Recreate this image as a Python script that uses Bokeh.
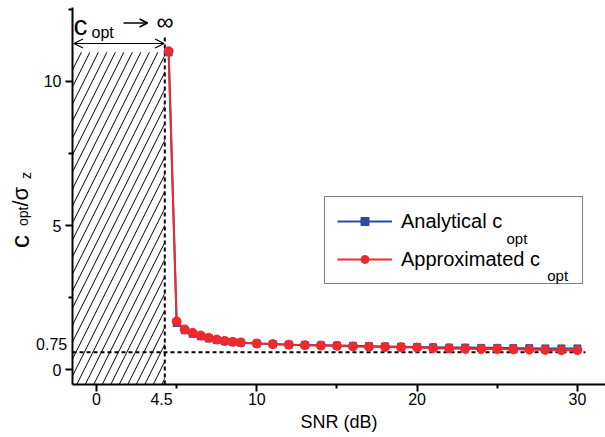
import math
from bokeh.plotting import figure
from bokeh.models import (Label, Arrow, OpenHead, BoxAnnotation, FixedTicker,
                          Legend, LegendItem, Range1d)
from bokeh.embed import file_html
from bokeh.resources import INLINE

# ---------------- data ----------------
snr = [4.5, 5, 5.5, 6, 6.5, 7, 7.5, 8, 8.5, 9,
       10, 11, 12, 13, 14, 15, 16, 17, 18, 19, 20,
       21, 22, 23, 24, 25, 26, 27, 28, 29, 30]
analytical = [11.0, 1.62, 1.37, 1.25, 1.16, 1.09, 1.03, 0.99, 0.96, 0.94,
              0.91, 0.89, 0.87, 0.86, 0.85, 0.84, 0.83, 0.82, 0.81, 0.80, 0.79,
              0.78, 0.77, 0.77, 0.76, 0.76, 0.75, 0.75, 0.74, 0.74, 0.74]
approximated = [11.04, 1.68, 1.40, 1.28, 1.19, 1.11, 1.05, 1.00, 0.97, 0.95,
                0.91, 0.89, 0.87, 0.85, 0.84, 0.83, 0.81, 0.80, 0.79, 0.78, 0.77,
                0.75, 0.74, 0.73, 0.72, 0.72, 0.71, 0.70, 0.69, 0.68, 0.68]
x_ticks = [0, 10, 20, 30]
x_minor = [5, 15, 25]
y_ticks = [0, 5, 10]
y_minor = [2.5, 7.5, 12.5]
threshold_x = 4.26      # vertical dashed line (labelled 4.5)
hline_y = 0.61          # horizontal dashed line (labelled 0.75)
hline_end = 30.5
hatch_top = 11.0
vline_top = 11.58

BLUE = "#2d4b9e"
RED = "#ee2a2e"
FONT = "Liberation Sans"

# ---------------- layout (page pixel -> data helpers) ----------------
W, H = 605, 437
X0P, XS = 96.0, 16.03      # page x of SNR 0, px per dB
Y0P, YS = 369.3, 28.86     # page y of value 0, px per unit

def px(xp):
    return (xp - X0P) / XS

def py(yp):
    return (Y0P - yp) / YS

AX_X = px(72)    # y axis position
AX_Y = py(384)   # x axis position

p = figure(width=W, height=H,
           x_range=Range1d(px(0), px(W)), y_range=Range1d(py(H), py(0)),
           output_backend="svg", toolbar_location=None,
           min_border=0, min_border_left=0, min_border_right=0,
           min_border_top=0, min_border_bottom=0)
p.outline_line_color = None
p.xgrid.visible = False
p.ygrid.visible = False
p.background_fill_color = "white"
p.border_fill_color = "white"

for ax in (p.xaxis[0], p.yaxis[0]):
    ax.axis_line_width = 2
    ax.axis_line_color = "black"
    ax.major_tick_in = 0
    ax.major_tick_out = 7
    ax.minor_tick_in = 0
    ax.minor_tick_out = 4
    ax.major_tick_line_width = 2
    ax.minor_tick_line_width = 2
    ax.major_tick_line_color = "black"
    ax.minor_tick_line_color = "black"
    ax.major_label_text_font = FONT
    ax.major_label_text_font_size = "16px"
    ax.major_label_text_color = "black"
p.xaxis.major_label_standoff = 1
p.yaxis.major_label_standoff = 4

p.xaxis.fixed_location = AX_Y
p.yaxis.fixed_location = AX_X
p.xaxis.bounds = (AX_X, px(W))
p.yaxis.bounds = (AX_Y, py(7))
p.xaxis.ticker = FixedTicker(ticks=x_ticks, minor_ticks=x_minor)
p.yaxis.ticker = FixedTicker(ticks=y_ticks, minor_ticks=y_minor)
p.xaxis.axis_label = "SNR (dB)"
p.xaxis.axis_label_text_font = FONT
p.xaxis.axis_label_text_font_size = "18px"
p.xaxis.axis_label_text_font_style = "normal"
p.xaxis.axis_label_text_color = "black"
p.xaxis.axis_label_standoff = 4

# hatched region
p.add_layout(BoxAnnotation(left=AX_X, bottom=AX_Y, right=threshold_x, top=hatch_top,
                           fill_color=None, line_color=None,
                           hatch_pattern="/", hatch_scale=17,
                           hatch_weight=1, hatch_color="black"))

# dashed guide lines
p.segment(x0=[threshold_x], y0=[AX_Y], x1=[threshold_x], y1=[vline_top],
          line_color="black", line_width=2, line_dash="4 3")
p.segment(x0=[AX_X], y0=[hline_y], x1=[hline_end], y1=[hline_y],
          line_color="black", line_width=2, line_dash="4 3")

# data
bl = p.line(snr, analytical, line_color=BLUE, line_width=2)
bs = p.scatter(snr, analytical, marker="square", size=7,
               fill_color=BLUE, line_color=BLUE)
rl = p.line(snr, approximated, line_color=RED, line_width=2)
rs = p.scatter(snr, approximated, marker="circle", size=9,
               fill_color=RED, line_color=RED)

legend = Legend(items=[LegendItem(label="Analytical c", renderers=[bl, bs]),
                       LegendItem(label="Approximated c", renderers=[rl, rs])],
                location=(324, H - 284), margin=0, padding=12, spacing=14,
                glyph_width=55, glyph_height=20, label_height=24,
                label_width=169, label_standoff=9,
                label_text_font=FONT, label_text_font_size="20px",
                label_text_color="black",
                border_line_color="black", border_line_width=1,
                background_fill_alpha=0)
p.add_layout(legend)

def lab(text, x, y, size, align="left", baseline="alphabetic", angle=0.0):
    p.add_layout(Label(x=x, y=y, text=text, text_font=FONT,
                       text_font_size=size, text_color="black",
                       text_align=align, text_baseline=baseline, angle=angle,
                       level="overlay"))

# legend subscripts
lab("opt", px(506), py(237.5), "15px")
lab("opt", px(546.7), py(274.5), "15px")

# top annotation c_opt -> infinity
lab("c", px(73), py(24.5), "28px")
lab("opt", px(91), py(32), "16px")
p.add_layout(Arrow(x_start=px(123), y_start=py(22.5), x_end=px(147), y_end=py(22.5),
                   line_width=1.5, line_color="black",
                   end=OpenHead(size=8, line_width=1.5, line_color="black")))
lab("\u221e", px(156), py(21), "24px", baseline="middle")
p.add_layout(Arrow(x_start=px(73.5), y_start=py(43), x_end=px(163.5), y_end=py(43),
                   line_width=1.2, line_color="black",
                   start=OpenHead(size=9, line_width=1.2, line_color="black"),
                   end=OpenHead(size=9, line_width=1.2, line_color="black")))

# extra tick labels
lab("0.75", px(66.7), py(343.3), "16px", align="right", baseline="middle")
lab("4.5", px(161), py(398), "16px", align="center", baseline="middle")

# y axis title c_opt / sigma_z (rotated)
A = math.pi / 2
lab("c", px(19.5), py(247.5), "26px", angle=A)
lab("opt", px(22.5), py(225.5), "14px", angle=A)
lab("/\u03c3", px(19.5), py(206), "22px", angle=A)
lab("z", px(25.5), py(178.5), "14px", angle=A)

open("out.html", "w").write(file_html(p, INLINE))
